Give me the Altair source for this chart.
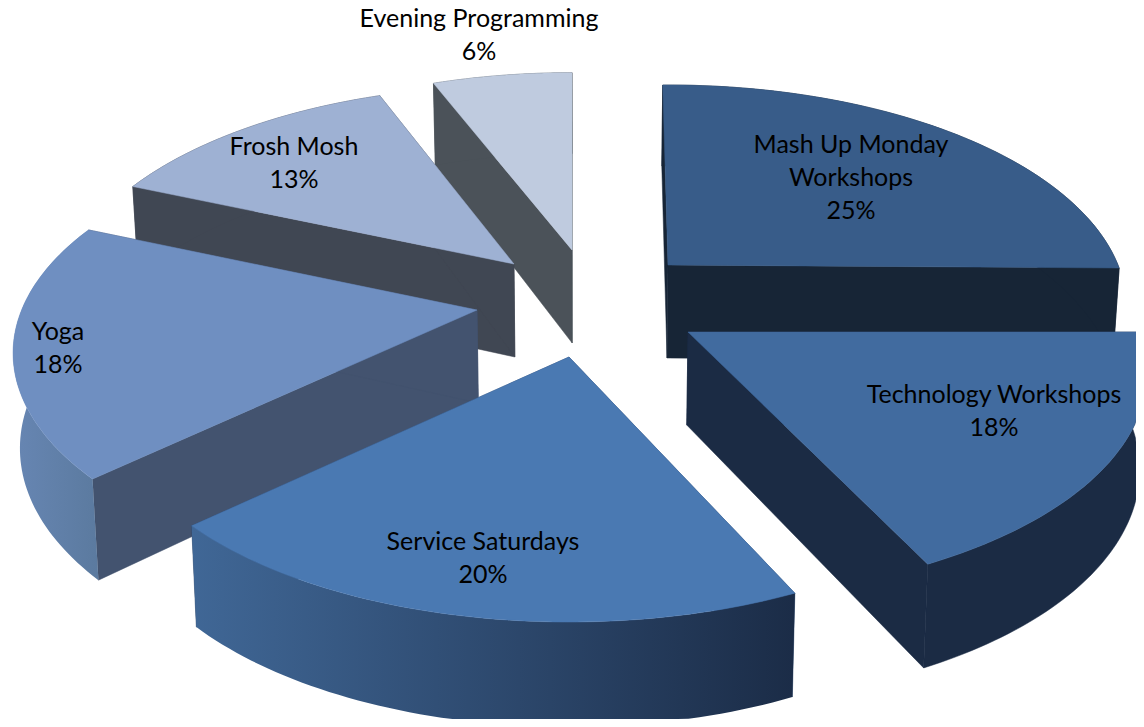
import math
import altair as alt

# ---- data ----
names = ["Mash Up Monday Workshops", "Technology Workshops", "Service Saturdays",
         "Yoga", "Frosh Mosh", "Evening Programming"]
values = [25, 18, 20, 18, 13, 6]

# ---- styling per slice ----
top_colors = ["#385c89", "#416b9f", "#4a79b2", "#6f8fc1", "#9eb1d3", "#bfcbdf"]
side_colors = ["#172536", "#1b2b44", "#2b4568", "#43536f", "#404753", "#4b5259"]
rim_colors = [("#172536", "#172536"), ("#1b2b44", "#1b2b44"), ("#406796", "#1b2c47"),
              ("#6786b3", "#5b7a9f"), ("#404753", "#404753"), ("#4b5259", "#4b5259")]
label_lines = [["Mash Up Monday", "Workshops"], ["Technology Workshops"], ["Service Saturdays"],
               ["Yoga"], ["Frosh Mosh"], ["Evening Programming"]]
draw_order = [0, 5, 4, 3, 2, 1]

# ---- layout of the exploded perspective pie ----
W, H = 1128, 711
PAGE = 8
CENTER = (585, 300)
RX, RY, PERSP = 450.0, 214.4, 0.191
DEPTH, DEPTH_TILT, SHRINK = 93.0, 12.0, 0.012
explode = [(83, -35), (103, 32), (-16, 57), (-108, 10), (-71, -36), (-13, -50)]
# small corrections of the perspective per slice: radius factor, start and end angle in degrees
radius_factor = [1.0, 1.0, 1.0, 1.012, 0.99, 0.985]
start_bias = [-0.8, 0.0, 0.7, 0.5, 1.5, 0.0]
end_bias = [0.8, -1.0, 0.0, 1.8, 0.8, 0.0]
label_anchor = [(851, 145), (994, 395), (483, 542), (58, 332), (294, 147), (479, 19)]
LINE_STEP = 33


def ground(deg):
    a = math.radians(deg)
    X, Y = math.sin(a), math.cos(a)
    s = 1.0 / (1.0 + PERSP * Y)
    return X * RX * s, -Y * RY * s, Y


def lower(pt, Y, cx):
    x, y = pt
    return (x + (cx - x) * SHRINK, y + DEPTH - DEPTH_TILT * Y)


def feature(points):
    # shapes are cut at the chart's edge so that they do not change the fitted scale
    ring = [[round(min(max(x - PAGE, 0), W), 2), round(min(max(y - PAGE, 0), H), 2)]
            for x, y in points]
    ring.append(ring[0])
    return {"type": "Feature", "properties": {},
            "geometry": {"type": "Polygon", "coordinates": [ring]}}


def poly(points, fill):
    mark = {"fill": fill}
    if isinstance(fill, str):
        mark.update(stroke=fill, strokeWidth=0.5)
    else:
        mark.update(strokeWidth=0)
    return (alt.Chart(alt.Data(values=[feature(points)]))
            .mark_geoshape(**mark)
            .project(type="identity"))


def hgrad(c0, c1):
    return {"gradient": "linear", "x1": 0, "x2": 1, "y1": 0, "y2": 0,
            "stops": [{"offset": 0, "color": c0}, {"offset": 1, "color": c1}]}


total = sum(values)
starts, acc = [], 0
for v in values:
    starts.append(acc)
    acc += v

layers = [
    alt.Chart(alt.Data(values=[{"type": "Feature", "properties": {}, "geometry": {
        "type": "Polygon", "coordinates": [[[0, 0], [W, 0], [W, H], [0, H], [0, 0]]]}}]))
    .mark_geoshape(fill="#ffffff", fillOpacity=0, strokeWidth=0)
    .project(type="identity")
]

for i in draw_order:
    a0 = starts[i] / total * 360 + start_bias[i]
    a1 = (starts[i] + values[i]) / total * 360 + end_bias[i]
    tx, ty = CENTER[0] + explode[i][0], CENTER[1] + explode[i][1]
    n = 60
    degs = [a0 + (a1 - a0) * j / n for j in range(n + 1)]
    top, bot = [], []
    for d in degs:
        dx, dy, Y = ground(d)
        p = (tx + dx * radius_factor[i], ty + dy * radius_factor[i])
        top.append(p)
        bot.append(lower(p, Y, CENTER[0]))
    tip = (tx, ty)
    tip_b = lower(tip, 0, CENTER[0])
    # radial walls, rim, then the top face
    layers.append(poly([tip, top[0], bot[0], tip_b], side_colors[i]))
    layers.append(poly([tip, top[-1], bot[-1], tip_b], side_colors[i]))
    c0, c1 = rim_colors[i]
    rim = c0 if c0 == c1 else hgrad(c0, c1)
    layers.append(poly(top + bot[::-1], rim))
    layers.append(poly([tip] + top, top_colors[i]))

rows = []
for i in range(len(names)):
    lines = label_lines[i] + [f"{values[i]}%"]
    for k, line in enumerate(lines):
        rows.append({"t": line, "lon": label_anchor[i][0] - PAGE,
                     "lat": label_anchor[i][1] + k * LINE_STEP - PAGE})

labels = (alt.Chart(alt.Data(values=rows))
          .mark_text(font="Lato", fontSize=25, color="#000000", baseline="middle", align="center")
          .encode(longitude="lon:Q", latitude="lat:Q", text="t:N")
          .project(type="identity"))
layers.append(labels)

chart = (alt.layer(*layers)
         .properties(width=W, height=H, padding=0, autosize="none", background="#ffffff")
         .configure_view(stroke=None))

chart.save("out.html", embed_options={"renderer": "svg", "actions": False})
